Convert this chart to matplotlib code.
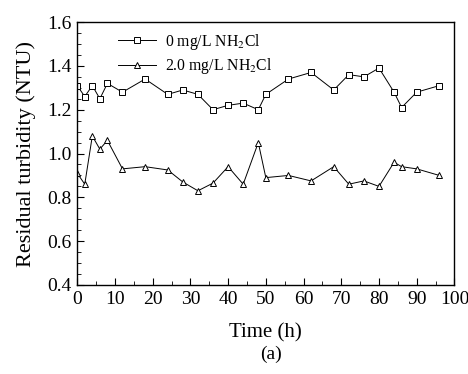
import matplotlib
matplotlib.use("Agg")
import matplotlib.pyplot as plt
from matplotlib.ticker import MultipleLocator

plt.rcParams["font.family"] = ["Liberation Serif", "DejaVu Serif"]
plt.rcParams["mathtext.fontset"] = "stix"

# Время отбора проб (ч)
time_h = [0, 2, 4, 6, 8, 12, 18, 24, 28, 32, 36, 40, 44, 48, 50,
          56, 62, 68, 72, 76, 80, 84, 86, 90, 96]

# Остаточная мутность (NTU)
turb_0 = [1.31, 1.26, 1.31, 1.25, 1.32, 1.28, 1.34, 1.27, 1.29, 1.27,
          1.20, 1.22, 1.23, 1.20, 1.27, 1.34, 1.37, 1.29, 1.36, 1.35,
          1.39, 1.28, 1.21, 1.28, 1.31]
turb_2 = [0.91, 0.86, 1.08, 1.02, 1.06, 0.93, 0.94, 0.925, 0.87, 0.83,
          0.865, 0.94, 0.86, 1.05, 0.89, 0.90, 0.875, 0.94, 0.86, 0.875,
          0.85, 0.96, 0.94, 0.93, 0.90]

labels = ["0 mg/L NH$_2$Cl", "2.0 mg/L NH$_2$Cl"]

fig = plt.figure(figsize=(4.68, 3.74), dpi=100)
ax = fig.add_axes([0.165, 0.238, 0.806, 0.703])

ax.plot(time_h, turb_0, "-s", color="black", lw=0.7, ms=4,
        mfc="white", mec="black", mew=0.7, label=labels[0])
ax.plot(time_h, turb_2, "-^", color="black", lw=0.7, ms=5,
        mfc="white", mec="black", mew=0.7, label=labels[1])

ax.set_xlim(0, 100)
ax.set_ylim(0.4, 1.6)
ax.xaxis.set_major_locator(MultipleLocator(10))
ax.xaxis.set_minor_locator(MultipleLocator(5))
ax.yaxis.set_major_locator(MultipleLocator(0.2))
ax.yaxis.set_minor_locator(MultipleLocator(0.05))
ax.tick_params(which="both", direction="in", top=False, right=False,
               labelsize=14, pad=4)
ax.tick_params(which="major", length=5)
ax.tick_params(which="minor", length=3)
ax.yaxis.set_major_formatter(plt.FuncFormatter(lambda v, p: f"{v:.1f}"))

for s in ax.spines.values():
    s.set_linewidth(1.0)

ax.set_ylabel("Residual turbidity (NTU)", fontsize=16, labelpad=8)
ax.set_xlabel("Time (h)", fontsize=15, labelpad=11)

ax.legend(loc="upper left", bbox_to_anchor=(0.08, 1.005), frameon=False,
          fontsize=11.3, handlelength=2.4, handletextpad=0.55,
          labelspacing=0.3, borderaxespad=0.3)

fig.text(0.58, 0.03, "(a)", ha="center", va="bottom", fontsize=14)

fig.savefig("out.png", dpi=100)
plt.close(fig)
